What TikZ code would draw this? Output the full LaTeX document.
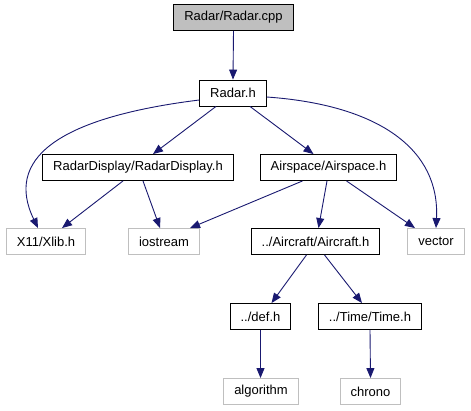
\documentclass[tikz,border=0pt]{standalone}
\usepackage{fontspec}
\setmainfont{Liberation Sans}
\usetikzlibrary{arrows.meta}
\definecolor{edgeblue}{RGB}{25,25,112}
\definecolor{extgray}{RGB}{191,191,191}
\definecolor{rootfill}{RGB}{191,191,191}

\begin{document}
\begin{tikzpicture}[x=1pt, y=-1pt, font=\fontsize{13}{15}\selectfont,
    filebox/.style={draw=black, line width=0.9pt, fill=white, minimum height=26pt, inner xsep=10.5pt, inner ysep=0pt},
    rootbox/.style={filebox, fill=rootfill},
    sysbox/.style={filebox, draw=extgray},
    inc/.style={-{Triangle[length=10pt, width=8pt]}, draw=edgeblue, line width=0.9pt}]
    \useasboundingbox (0,0) rectangle (471,411);

    % Source file
    \node[rootbox] (cpp) at (233.5,17.5) {Radar/Radar.cpp};
    \node[filebox] (radarh) at (233,93) {Radar.h};

    % Second row
    \node[filebox] (disp) at (138,167.5) {RadarDisplay/RadarDisplay.h};
    \node[filebox] (airsp) at (328.5,167.5) {Airspace/Airspace.h};

    % Third row
    \node[sysbox] (xlib) at (46,241.5) {X11/Xlib.h};
    \node[sysbox] (iostream) at (164,241.5) {iostream};
    \node[filebox] (aircraft) at (315.5,241.5) {../Aircraft/Aircraft.h};
    \node[sysbox] (vector) at (436,241.5) {vector};

    % Fourth and fifth rows
    \node[filebox] (def) at (260.5,316.5) {../def.h};
    \node[filebox] (time) at (370,316.5) {../Time/Time.h};
    \node[sysbox] (algorithm) at (261,391.5) {algorithm};
    \node[sysbox] (chrono) at (370.5,391.5) {chrono};

    \draw[inc] (cpp.south) -- (radarh.north);
    \draw[inc] ([xshift=-17pt]radarh.south) -- ([xshift=15pt]disp.north);
    \draw[inc] ([xshift=17pt]radarh.south) -- ([xshift=-15pt]airsp.north);
    \draw[inc] ([yshift=-7pt]radarh.west) .. controls (55,118) and (5,160) .. ([xshift=-8pt]xlib.north);
    \draw[inc] ([yshift=-4pt]radarh.east) .. controls (380,105) and (440,150) .. (vector.north);

    \draw[inc] ([xshift=-15pt]disp.south) -- ([xshift=16pt]xlib.north);
    \draw[inc] ([xshift=5pt]disp.south) -- ([xshift=-4pt]iostream.north);
    \draw[inc] ([xshift=-26pt]airsp.south) -- ([xshift=26pt]iostream.north);
    \draw[inc] ([xshift=-1.5pt]airsp.south) -- ([xshift=3pt]aircraft.north);
    \draw[inc] ([xshift=18pt]airsp.south) -- ([xshift=-21pt]vector.north);

    \draw[inc] ([xshift=-9pt]aircraft.south) -- ([xshift=11pt]def.north);
    \draw[inc] ([xshift=9pt]aircraft.south) -- ([xshift=-8pt]time.north);
    \draw[inc] (def.south) -- ([xshift=-0.5pt]algorithm.north);
    \draw[inc] (time.south) -- (chrono.north);
\end{tikzpicture}
\end{document}
